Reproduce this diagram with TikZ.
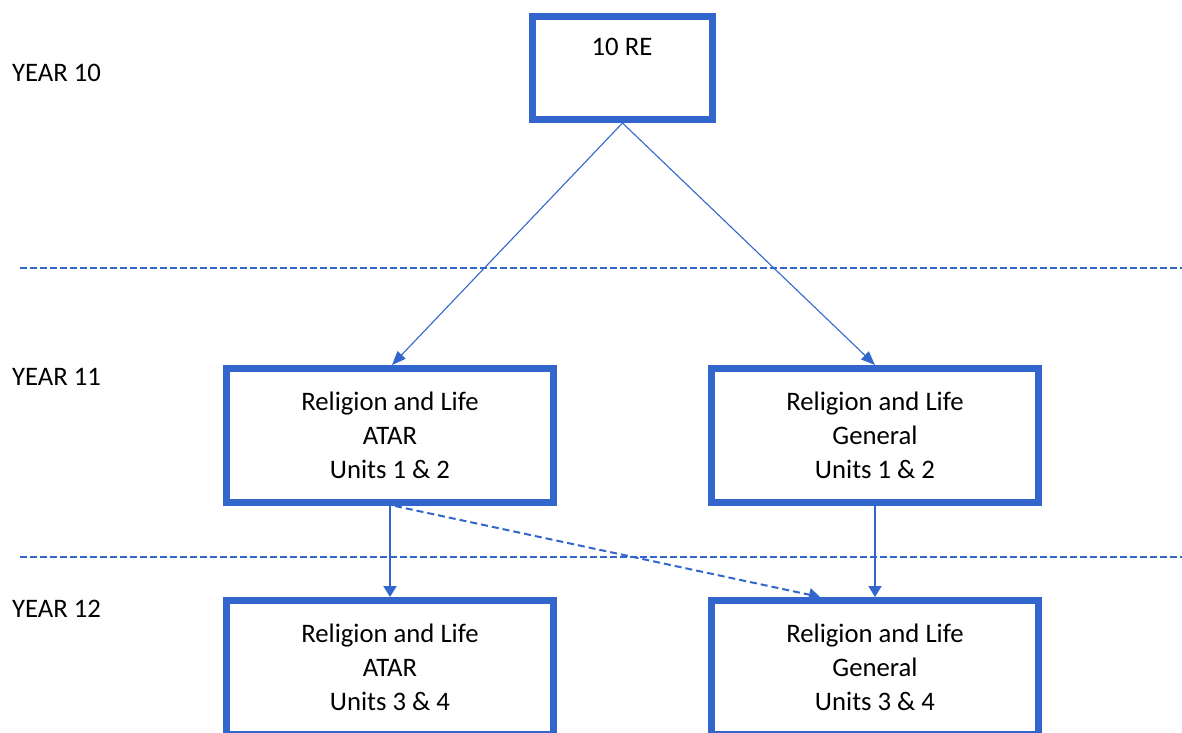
\documentclass[tikz,border=0pt]{standalone}
\usepackage{fontspec}
\setmainfont{Carlito}
\usetikzlibrary{arrows.meta}

\definecolor{flowblue}{RGB}{51,102,204}

\begin{document}
\begin{tikzpicture}[x=1pt,y=-1pt,
    every node/.style={font=\fontsize{26.7}{34}\selectfont},
    coursebox/.style={draw=flowblue, line width=7pt, fill=white,
        minimum width=327pt, minimum height=134pt, inner sep=0pt,
        align=center},
    rowlabel/.style={anchor=west, inner sep=0pt},
    divider/.style={draw=flowblue, line width=2pt, dash pattern=on 7pt off 3pt},
    thinarrow/.style={draw=flowblue, line width=1.1pt,
        -{Triangle[length=14pt,width=11pt]}},
    thickarrow/.style={draw=flowblue, line width=2pt,
        -{Triangle[length=11pt,width=13pt]}},
  ]
  \useasboundingbox (0,0) rectangle (1182,732);
  \begin{scope}
    \clip (0,0) rectangle (1182,732);

    % year dividers
    \coordinate (d1a) at (20,268);
    \coordinate (d1b) at (1182,268);
    \coordinate (d2a) at (20,557);
    \coordinate (d2b) at (1182,557);
    \draw[divider] (d1a) -- (d1b);
    \draw[divider] (d2a) -- (d2b);

    % row labels
    \node[rowlabel] (y10) at (12,73) {YEAR 10};
    \node[rowlabel] (y11) at (12,377) {YEAR 11};
    \node[rowlabel] (y12) at (12,609) {YEAR 12};

    % year 10
    \node[coursebox, minimum width=180pt, minimum height=103pt] (re) at (622.5,68) {};
    \node (retext) at (622,47) {10 RE};

    % year 11
    \node[coursebox] (atar11) at (390,435.5) {Religion and Life\\ATAR\\Units 1 \& 2};
    \node[coursebox] (gen11) at (875,435.5) {Religion and Life\\General\\Units 1 \& 2};

    % year 12 (boxes run past the lower edge)
    \node[coursebox] (atar12) at (390,667.5) {Religion and Life\\ATAR\\Units 3 \& 4};
    \node[coursebox] (gen12) at (875,667.5) {Religion and Life\\General\\Units 3 \& 4};

    % pathways
    \draw[thinarrow] (re.south) -- ([xshift=2pt]atar11.north);
    \draw[thinarrow] (re.south) -- (gen11.north);
    \draw[thickarrow] (atar11.south) -- (atar12.north);
    \draw[thickarrow] (gen11.south) -- (gen12.north);
    \draw[thickarrow, dash pattern=on 7pt off 4pt]
      ([xshift=5pt]atar11.south) -- ([xshift=-55pt]gen12.north);
  \end{scope}
\end{tikzpicture}
\end{document}
